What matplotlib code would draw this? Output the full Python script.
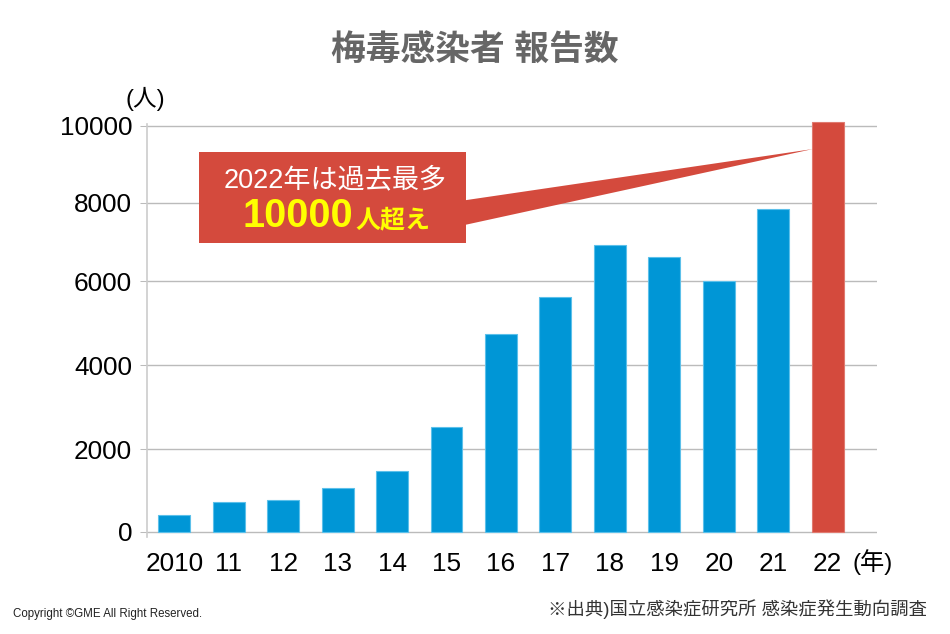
import matplotlib
matplotlib.use('Agg')
import matplotlib.pyplot as plt
import numpy as np
from matplotlib.patches import Rectangle, Polygon

plt.rcParams['font.family'] = ['Liberation Sans', 'Noto Sans CJK JP', 'DejaVu Sans']

# data
years = ['2010', '11', '12', '13', '14', '15', '16', '17', '18', '19', '20', '21', '22']
cases = [394, 724, 765, 1064, 1475, 2524, 4731, 5612, 6912, 6613, 5990, 7831, 10096]
yticks = [0, 2000, 4000, 6000, 8000, 10000]

BLUE = '#0096D6'
RED = '#D44A3D'
W, H = 950, 634

# the original's y gridlines are not evenly spaced, so map them piecewise
scale_vals = [-2000, 0, 2000, 4000, 6000, 8000, 10000, 12000]
scale_px = [-82.7, 0, 82.7, 166.7, 250.7, 329, 406, 483]


def fwd(v):
    return np.interp(v, scale_vals, scale_px)


def inv(p):
    return np.interp(p, scale_px, scale_vals)


def px(x, y):
    # pixel position (from top-left) -> figure fraction
    return x / W, 1 - y / H


fig = plt.figure(figsize=(W / 100, H / 100), dpi=100)
ax = fig.add_axes([147.3 / W, 97.3 / H, 729.4 / W, 412.5 / H])
ax.set_yscale('function', functions=(fwd, inv))

xpos = np.arange(len(years))
ax.bar(xpos[:-1], cases[:-1], width=0.587, color=BLUE, edgecolor='#5CC0EA',
       linewidth=0.8, zorder=3)
ax.bar(xpos[-1:], cases[-1:], width=0.587, color=RED, edgecolor='#E07A70',
       linewidth=0.8, zorder=3, clip_on=False)

ax.set_xlim(-0.494, 12.9)
ax.set_ylim(-121, 10040)
ax.set_yticks(yticks)
ax.set_yticklabels([str(v) for v in yticks])
ax.set_xticks(xpos)
ax.set_xticklabels(years)
ax.yaxis.set_minor_locator(matplotlib.ticker.NullLocator())

ax.yaxis.grid(True, color='#BBBBBB', linewidth=1.0)
ax.set_axisbelow(True)
for s in ['top', 'right', 'bottom']:
    ax.spines[s].set_visible(False)
ax.spines['left'].set_color('#CCCCCC')
ax.spines['left'].set_linewidth(1.2)
ax.tick_params(axis='y', length=5, width=0.75, color='#BBBBBB', pad=6,
               labelsize=18.8, labelcolor='black')
ax.tick_params(axis='x', length=0, pad=11.2, labelsize=18.8, labelcolor='black')

# units
fig.text(*px(145, 99), '(人)', fontsize=17, ha='center', va='center')
fig.text(*px(873, 562), '(年)', fontsize=17.5, ha='center', va='center')

# title
fig.text(*px(475, 51), '梅毒感染者 報告数', fontsize=25, fontweight='bold',
         color='#666666', ha='center', va='center')

# callout
wedge = Polygon([px(460, 201), px(460, 226), px(813, 149)], closed=True,
                transform=fig.transFigure, facecolor=RED, edgecolor='none')
fig.add_artist(wedge)
bx0, by0 = px(199.3, 243)
bx1, by1 = px(466, 152)
box = Rectangle((bx0, by0), bx1 - bx0, by1 - by0, transform=fig.transFigure,
                facecolor=RED, edgecolor='none')
fig.add_artist(box)
fig.text(*px(335, 180), '2022年は過去最多', fontsize=19.5, color='white',
         ha='center', va='center')
fig.text(*px(353, 227), '10000', fontsize=28.5, fontweight='bold',
         color='#FFFF00', ha='right', va='baseline')
fig.text(*px(355, 227), '人超え', fontsize=18, fontweight='bold',
         color='#FFFF00', ha='left', va='baseline')

# footer
fig.text(*px(13, 614), 'Copyright ©GME All Right Reserved.', fontsize=8.3,
         color='#222222', ha='left', va='center')
fig.text(*px(927, 609), '※出典)国立感染症研究所 感染症発生動向調査', fontsize=13.2,
         color='#333333', ha='right', va='center')

fig.savefig('out.png', dpi=100)
